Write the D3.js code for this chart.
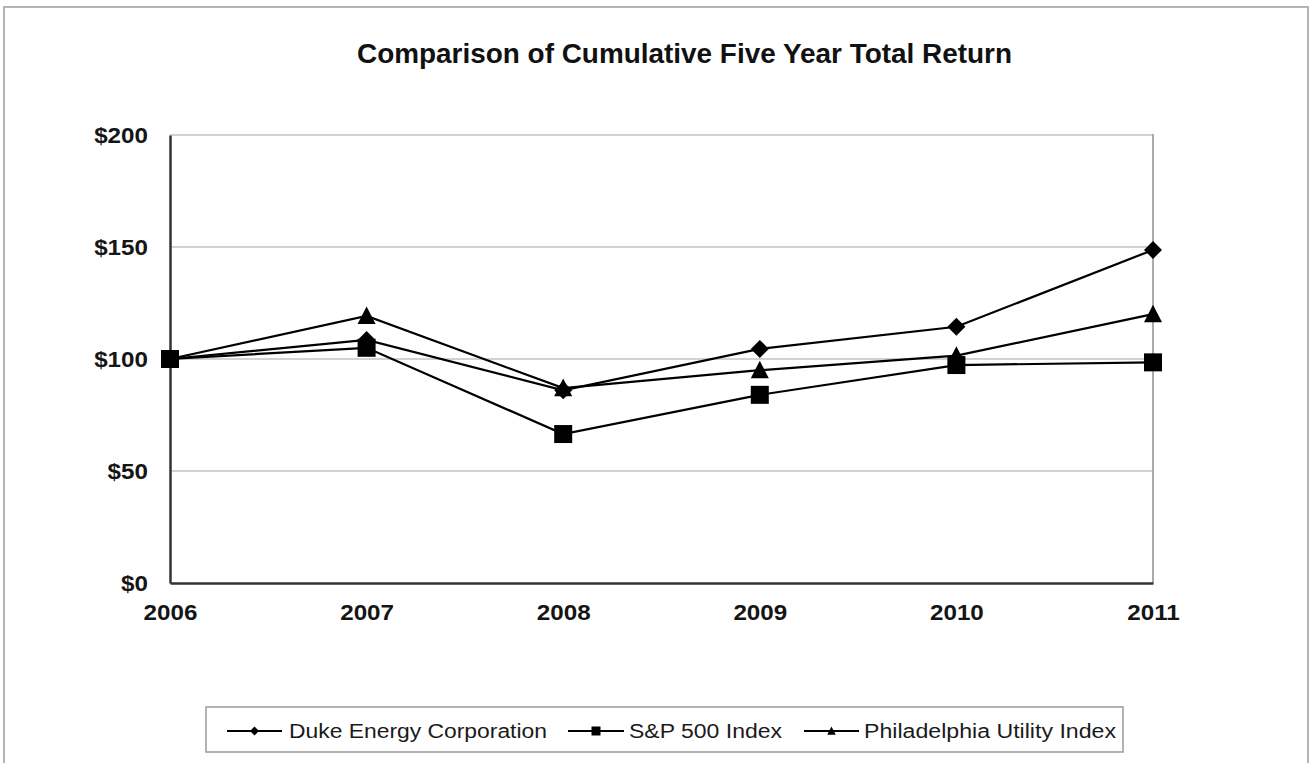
<!DOCTYPE html>
<html><head><meta charset="utf-8">
<script src="https://cdn.jsdelivr.net/npm/d3@7"></script>
<style>body{margin:0;background:#fff;}svg{display:block;font-family:Arial,"Liberation Sans",sans-serif;}</style>
</head><body>
<svg id="c" width="1311" height="763"></svg>
<script>
const years = ["2006","2007","2008","2009","2010","2011"];
const duke = [100, 108.5, 86, 104.5, 114.4, 148.7];
const sp500 = [100, 105, 66.5, 84, 97.3, 98.5];
const phil = [100, 119.2, 87, 95, 101.5, 120];
const yTicks = [0, 50, 100, 150, 200];
const seriesNames = ["Duke Energy Corporation", "S&P 500 Index", "Philadelphia Utility Index"];
const markerTypes = ["diamond", "square", "triangle"];

const svg = d3.select("#c");
const x = d3.scalePoint().domain(years).range([170, 1153]);
const y = d3.scaleLinear().domain([0, 200]).range([583, 135]);

function stretch(sel, f){
  sel.each(function(){
    const len = this.getComputedTextLength();
    d3.select(this).attr("textLength", len*f).attr("lengthAdjust","spacingAndGlyphs");
  });
}

// outer border
svg.append("rect").attr("x",4).attr("y",7).attr("width",1304).attr("height",780)
  .attr("fill","none").attr("stroke","#b4b4b4").attr("stroke-width",2);

// title
const title = svg.append("text").attr("x",684.5).attr("y",63).attr("text-anchor","middle")
  .attr("font-weight","bold").attr("font-size",27).attr("fill","#111")
  .text("Comparison of Cumulative Five Year Total Return");
title.attr("textLength",655).attr("lengthAdjust","spacingAndGlyphs");

// gridlines
svg.append("g").selectAll("line").data(yTicks.filter(d=>d>0)).join("line")
  .attr("x1",170).attr("x2",1153).attr("y1",d=>y(d)).attr("y2",d=>y(d))
  .attr("stroke","#d2d2d2").attr("stroke-width",2);
// right border of plot
svg.append("line").attr("x1",1153).attr("x2",1153).attr("y1",134).attr("y2",583)
  .attr("stroke","#aaaaaa").attr("stroke-width",2);

// axes
const yAxis = d3.axisLeft(y).tickValues(yTicks).tickSize(0).tickPadding(22).tickFormat(d=>"$"+d);
const gy = svg.append("g").attr("transform","translate(170,0)").call(yAxis);
gy.select(".domain").attr("stroke","#333").attr("stroke-width",2.5);
gy.selectAll("text").attr("font-size",22).attr("font-weight","bold").attr("fill","#151515")
  .attr("font-family","Arial, 'Liberation Sans', sans-serif").attr("dy","0.36em");
stretch(gy.selectAll("text"), 1.1);

const xAxis = d3.axisBottom(x).tickSize(0).tickPadding(21);
const gx = svg.append("g").attr("transform","translate(0,583)").call(xAxis);
gx.select(".domain").attr("stroke","#333").attr("stroke-width",2.5);
gx.selectAll("text").attr("font-size",22).attr("font-weight","bold").attr("fill","#151515")
  .attr("font-family","Arial, 'Liberation Sans', sans-serif");
stretch(gx.selectAll("text"), 1.1);

function markerPath(t, s){
  const h = s/2;
  if(t==="diamond") return `M0,${-h}L${h},0L0,${h}L${-h},0Z`;
  if(t==="square") return `M${-h},${-h}H${h}V${h}H${-h}Z`;
  return `M0,${-h}L${h*0.95},${h*0.85}H${-h*0.95}Z`;
}

const data = [duke, sp500, phil];
const line = d3.line().x((d,i)=>x(years[i])).y(d=>y(d));
data.forEach((vals)=>{
  svg.append("path").datum(vals).attr("d", line).attr("fill","none")
    .attr("stroke","#000").attr("stroke-width",2.2);
});
const markerSize = {diamond:18, square:18, triangle:19};
data.forEach((vals, k)=>{
  svg.append("g").selectAll("path").data(vals).join("path")
    .attr("d", markerPath(markerTypes[k], markerSize[markerTypes[k]]))
    .attr("transform",(d,i)=>`translate(${x(years[i])},${y(d)})`)
    .attr("fill","#000");
});

// legend
const lg = svg.append("g");
lg.append("rect").attr("x",206).attr("y",707).attr("width",917).attr("height",45)
  .attr("fill","#fff").attr("stroke","#9a9a9a").attr("stroke-width",1.5);
const legendLine = [[227,282],[568,624],[804,859]];
const legendText = [[289,258],[629,153],[864,252]];
seriesNames.forEach((name,k)=>{
  const [a,b] = legendLine[k];
  lg.append("line").attr("x1",a).attr("x2",b).attr("y1",731).attr("y2",731)
    .attr("stroke","#000").attr("stroke-width",2.2);
  lg.append("path").attr("d", markerPath(markerTypes[k], 9))
    .attr("transform",`translate(${(a+b)/2},731)`).attr("fill","#000");
  lg.append("text").attr("x",legendText[k][0]).attr("y",738).attr("font-size",20).attr("fill","#1a1a1a")
    .attr("textLength",legendText[k][1]).attr("lengthAdjust","spacingAndGlyphs").text(name);
});
</script>
</body></html>
